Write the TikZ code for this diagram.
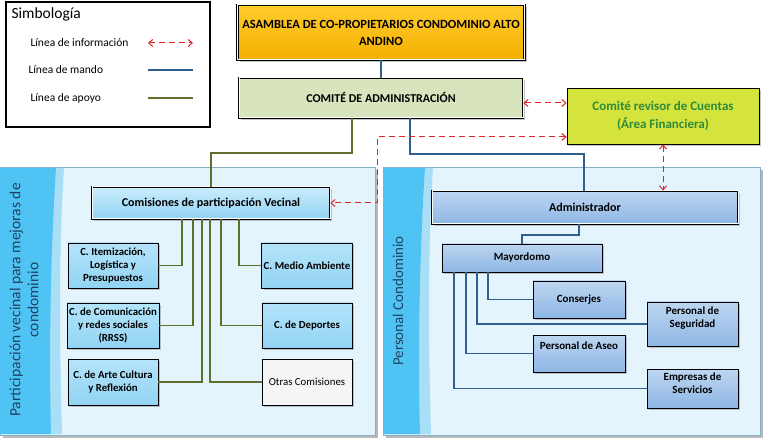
\documentclass[tikz,border=0pt]{standalone}
\usepackage{fontspec}
\setmainfont{Carlito}
\usepackage{tikz}
\usetikzlibrary{positioning}
\usetikzlibrary{arrows.meta}
\usetikzlibrary{shadows}

\definecolor{mando}{HTML}{2F5F8E}
\definecolor{apoyo}{HTML}{5F6F2C}
\definecolor{inforojo}{HTML}{E02424}
\definecolor{panelfill}{HTML}{E3F4FC}
\definecolor{panelband}{HTML}{4FC4F4}
\definecolor{panelstripe}{HTML}{A9DEF7}
\definecolor{panelline}{HTML}{86AFC8}
\definecolor{revisorverde}{HTML}{D5E43C}
\definecolor{revisortexto}{HTML}{2F8A3C}
\definecolor{comiteverde}{HTML}{D7E4BD}
\definecolor{asambleaarriba}{HTML}{FFCB2E}
\definecolor{asambleaabajo}{HTML}{F5B000}
\definecolor{comisionarriba}{HTML}{B4E4FA}
\definecolor{comisionabajo}{HTML}{92D3F3}
\definecolor{personalarriba}{HTML}{BDD6F1}
\definecolor{personalabajo}{HTML}{8EB6E4}

\begin{document}
\begin{tikzpicture}[x=1pt, y=-1pt,
    every node/.style={font=\fontsize{11}{13}\selectfont},
    caja/.style={draw=black, line width=0.8pt, align=center, inner sep=2pt,
        drop shadow={shadow xshift=2pt, shadow yshift=-2pt, opacity=0.45}},
    dobleborde/.style={draw=black, double=white, double distance=1pt, line width=0.7pt},
    comision/.style={caja, font=\bfseries\fontsize{10.8}{13}\selectfont,
        top color=comisionarriba, bottom color=comisionabajo,
        minimum width=90pt, minimum height=45pt},
    personal/.style={caja, font=\bfseries\fontsize{11}{13}\selectfont,
        top color=personalarriba, bottom color=personalabajo,
        minimum width=92pt},
    rotulo/.style={align=center, font=\bfseries\fontsize{11}{13}\selectfont},
    mandoline/.style={mando, line width=1.8pt},
    apoyoline/.style={apoyo, line width=1.8pt},
    infoline/.style={inforojo, line width=1pt, dash pattern=on 6pt off 4pt,
        {Straight Barb[length=4pt,width=7pt]}-{Straight Barb[length=4pt,width=7pt]}},
    panel/.style={fill=panelfill, draw=panelline, line width=0.6pt}
]
\useasboundingbox (0,0) rectangle (763,438);

% simbologia
\draw[line width=1.1pt] (6,2) rectangle (210,127);
\node[anchor=west, font=\fontsize{15.5}{18}\selectfont] (simb) at (8,14) {Simbología};
\node[anchor=west, font=\fontsize{11.5}{13}\selectfont] (tinfo) at (27,43) {Línea de información};
\node[anchor=west, font=\fontsize{11.5}{13}\selectfont] (tmando) at (25,70) {Línea de mando};
\node[anchor=west, font=\fontsize{11.5}{13}\selectfont] (tapoyo) at (27,98) {Línea de apoyo};
\coordinate (info1) at (148,43);
\coordinate (info2) at (193,43);
\coordinate (mando1) at (148,70);
\coordinate (mando2) at (193,70);
\coordinate (apoyo1) at (148,98);
\coordinate (apoyo2) at (193,98);
\draw[infoline] (info1) -- (info2);
\draw[mandoline, line width=1.5pt] (mando1) -- (mando2);
\draw[apoyoline, line width=1.5pt] (apoyo1) -- (apoyo2);

% paneles
\fill[gray!55] (3,170) rectangle (378,438);
\filldraw[panel] (0,167) rectangle (375,435);
\fill[panelstripe] (0,168) -- (64,168) .. controls (58,260) and (60,360) .. (62,434) -- (0,434) -- cycle;
\fill[panelband] (0,168) -- (56,168) .. controls (50,260) and (49,360) .. (51,434) -- (0,434) -- cycle;
\node[rotate=90, align=center, text=mando!70!black, font=\fontsize{15.5}{18}\selectfont] (tvecinal) at (24,300)
    {Participación vecinal para mejoras de\\condominio};

\fill[gray!55] (386,170) rectangle (763,438);
\filldraw[panel] (383,167) rectangle (760,435);
\fill[panelstripe] (383,168) -- (433,168) .. controls (427,260) and (429,360) .. (431,434) -- (383,434) -- cycle;
\fill[panelband] (383,168) -- (425,168) .. controls (419,260) and (418,360) .. (420,434) -- (383,434) -- cycle;
\node[rotate=90, text=mando!70!black, font=\fontsize{15}{18}\selectfont] (tpersonal) at (398,301)
    {Personal Condominio};

% nivel superior
\node[caja, dobleborde, top color=asambleaarriba, bottom color=asambleaabajo,
    minimum width=287pt, minimum height=55pt, font=\bfseries\fontsize{12.5}{17}\selectfont] (asamblea) at (381,32.5)
    {ASAMBLEA DE CO-PROPIETARIOS CONDOMINIO ALTO\\ANDINO};
\node[caja, dobleborde, fill=comiteverde, minimum width=284pt, minimum height=40pt,
    font=\bfseries\fontsize{12}{14}\selectfont] (comite) at (381,98) {COMITÉ DE ADMINISTRACIÓN};
\node[caja, fill=revisorverde, text=revisortexto, minimum width=192pt, minimum height=56pt,
    font=\bfseries\fontsize{13}{18}\selectfont] (revisor) at (663,116)
    {Comité revisor de Cuentas\\(Área Financiera)};

% comisiones
\node[caja, dobleborde, top color=comisionarriba!70!white, bottom color=comisionabajo,
    minimum width=238pt, minimum height=32pt, font=\bfseries\fontsize{12}{14}\selectfont] (comisiones) at (211,203)
    {Comisiones de participación Vecinal};
\node[comision] (itemiz) at (113,265.5) {C. Itemización,\\Logística y\\Presupuestos};
\node[comision] (comunic) at (113,325.5) {C. de Comunicación\\y redes sociales\\(RRSS)};
\node[comision, minimum height=46pt] (arte) at (113,382) {C. de Arte Cultura\\y Reflexión};
\node[comision] (medio) at (307,265.5) {C. Medio Ambiente};
\node[comision] (deportes) at (307,325.5) {C. de Deportes};
\node[comision, minimum height=46pt, top color=gray!8, bottom color=gray!8,
    font=\fontsize{10.8}{13}\selectfont] (otras) at (307,382) {Otras Comisiones};

% personal
\node[caja, dobleborde, top color=personalarriba, bottom color=personalabajo,
    minimum width=306pt, minimum height=33pt, font=\bfseries\fontsize{12}{14}\selectfont] (admin) at (585,207.5)
    {Administrador};
\node[personal, minimum width=160pt, minimum height=28pt] (mayor) at (522,258) {Mayordomo};
\node[personal, minimum height=37pt] (conserjes) at (579,299.5) {Conserjes};
\node[personal, minimum width=91pt, minimum height=44pt] (seguridad) at (692.5,324) {};
\node[rotulo] (tseguridad) at ([yshift=6pt]seguridad.center) {Personal de\\Seguridad};
\node[personal, minimum height=37pt, text depth=15pt] (aseo) at (579,353.5) {Personal de Aseo};
\node[personal, minimum width=91pt, minimum height=39pt] (empresas) at (692.5,388.5) {};
\node[rotulo] (tempresas) at ([yshift=5.5pt]empresas.center) {Empresas de\\Servicios};

% lineas de mando
\draw[mandoline] (asamblea.south) -- (comite.north);
\draw[mandoline] ([xshift=29pt]comite.south) -- ++(0,36) -| ([xshift=-1pt]admin.north);
\draw[mandoline] ([xshift=-6pt]admin.south) -- ++(0,11) -| (mayor.north);
\draw[mandoline] ([xshift=-34pt]mayor.south) |- (conserjes.west);
\draw[mandoline] ([xshift=-45pt]mayor.south) |- (seguridad.west);
\draw[mandoline] ([xshift=-56pt]mayor.south) |- (aseo.west);
\draw[mandoline] ([xshift=-68pt]mayor.south) |- (empresas.west);

% lineas de apoyo
\draw[apoyoline] ([xshift=-29pt]comite.south) -- ++(0,35) -| (comisiones.north);
\draw[apoyoline] ([xshift=-29pt]comisiones.south) |- (itemiz.east);
\draw[apoyoline] ([xshift=-18pt]comisiones.south) |- (comunic.east);
\draw[apoyoline] ([xshift=-9pt]comisiones.south) |- (arte.east);
\draw[apoyoline] ([xshift=-1pt]comisiones.south) |- (otras.west);
\draw[apoyoline] ([xshift=10pt]comisiones.south) |- (deportes.west);
\draw[apoyoline] ([xshift=28pt]comisiones.south) |- (medio.west);

% lineas de informacion
\coordinate (info3) at ([yshift=-5pt]comite.east);
\draw[infoline] (info3) -- (info3 -| revisor.west);
\coordinate (info4) at ([yshift=-21pt]revisor.west);
\coordinate (info5) at ([xshift=47pt]comisiones.east);
\draw[infoline] (info4) -| (info5) -- (comisiones.east);
\draw[infoline] (revisor.south) -- (revisor.south |- admin.north);
\end{tikzpicture}
\end{document}
